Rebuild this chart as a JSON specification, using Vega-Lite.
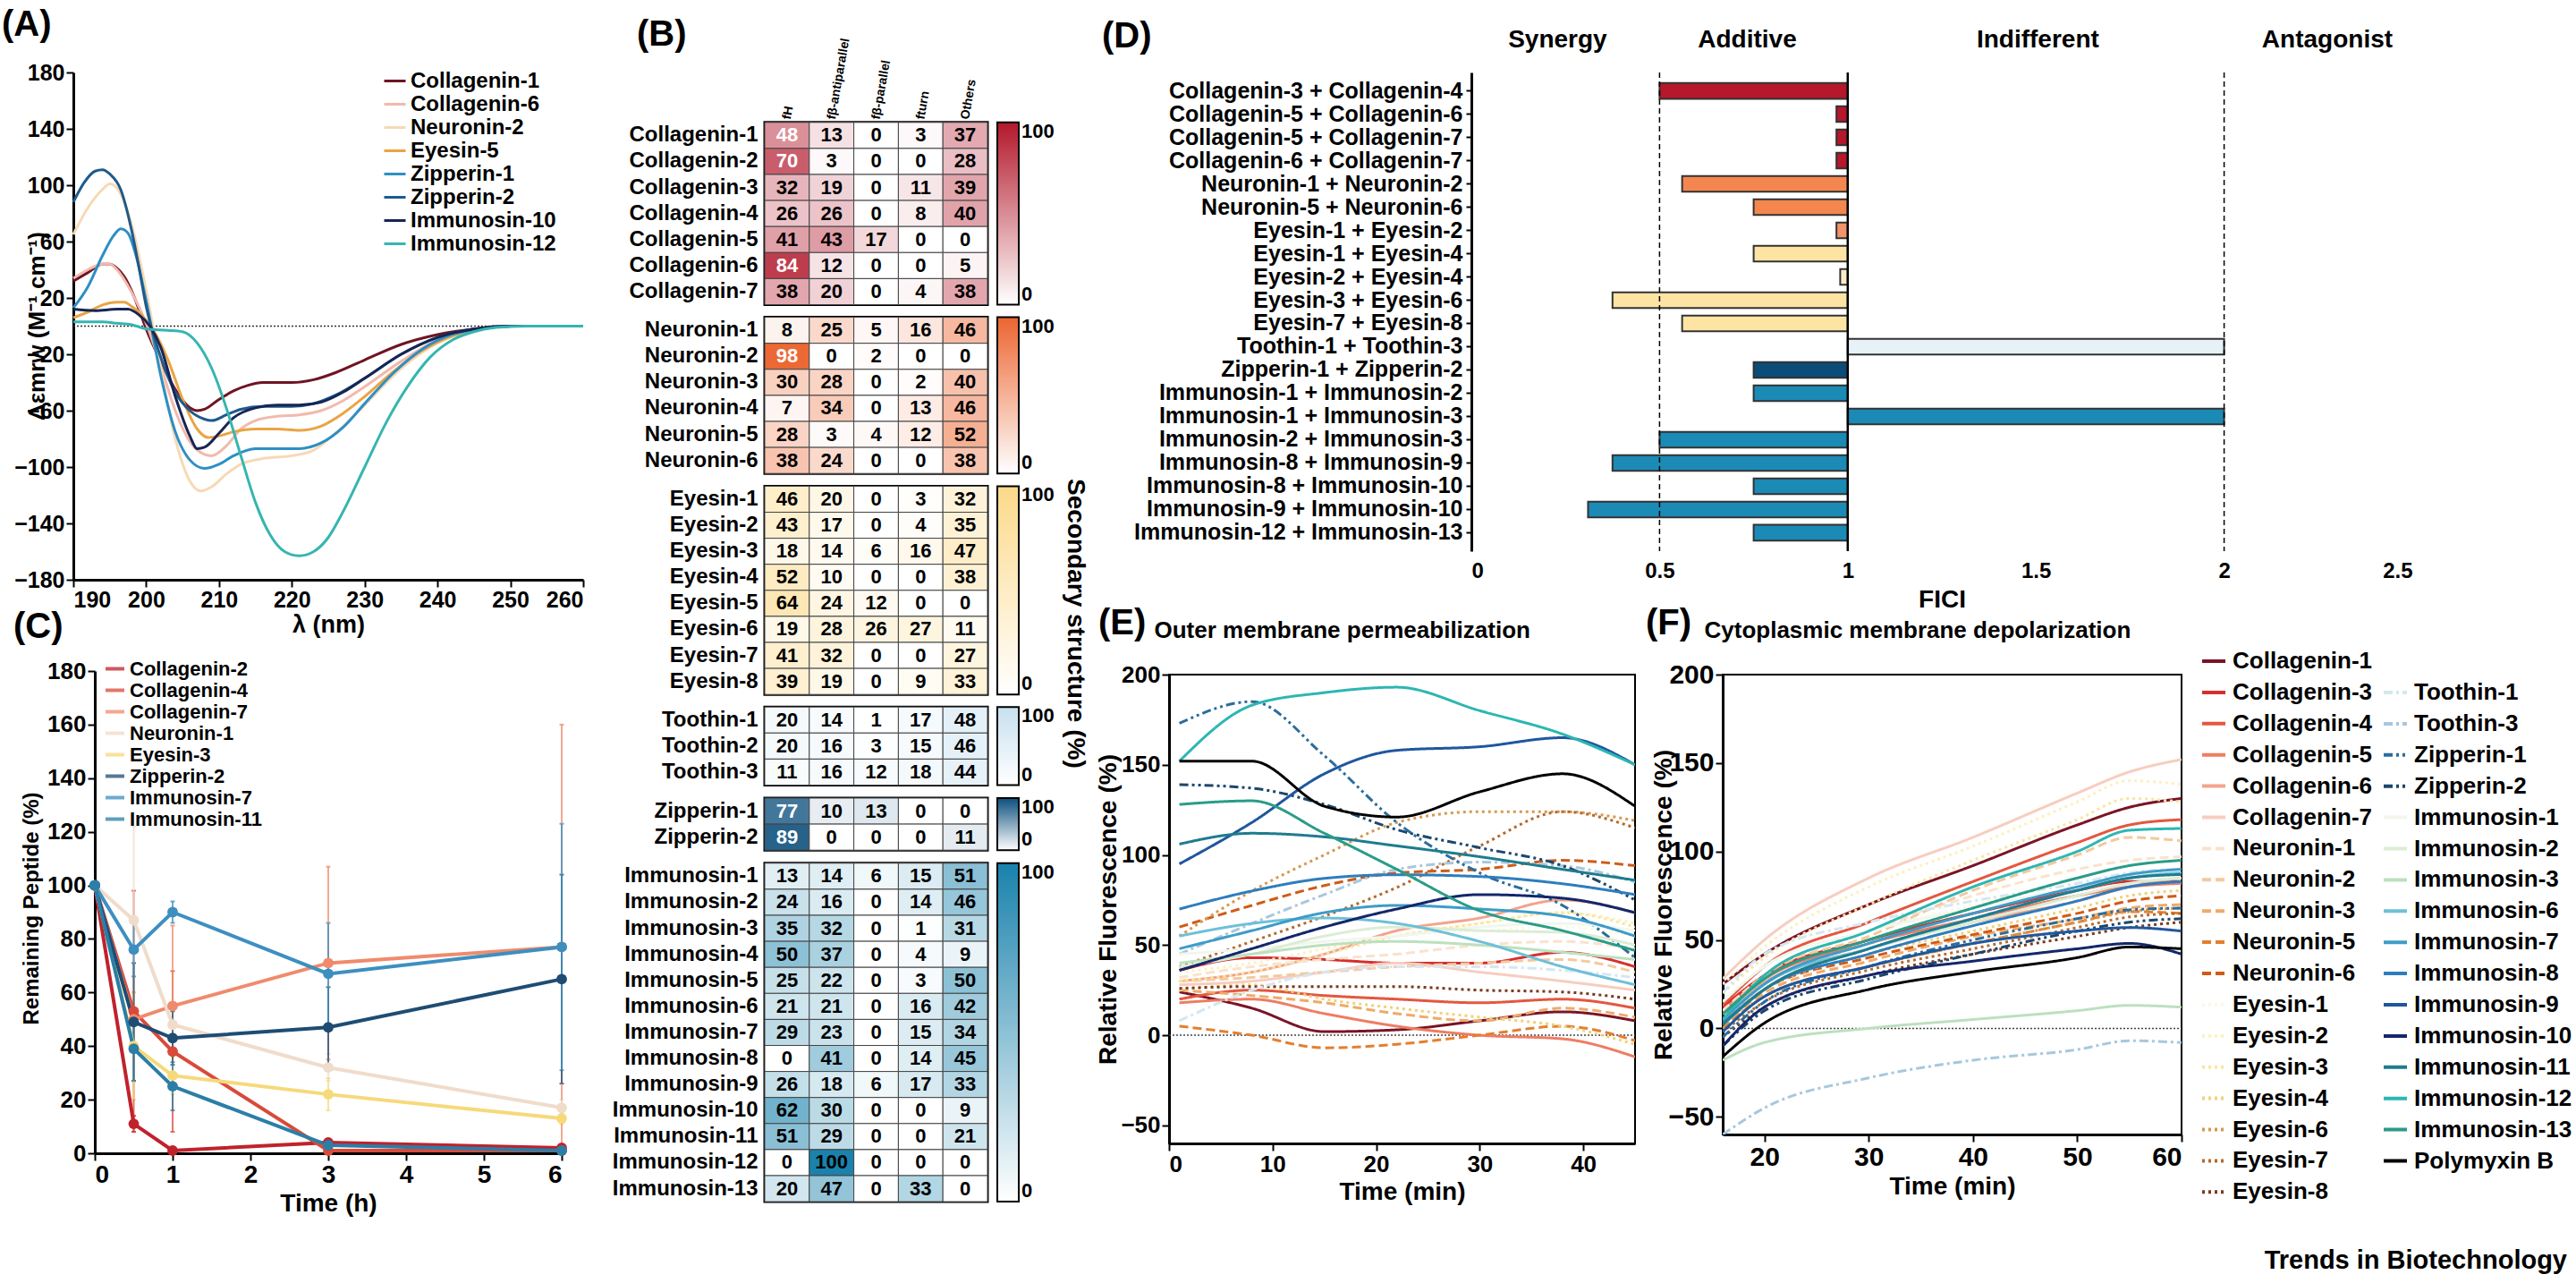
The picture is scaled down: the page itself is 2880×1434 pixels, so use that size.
{
"$schema": "https://vega.github.io/schema/vega-lite/v6.json",
"background": "white",
"autosize": {"type": "pad"},
"padding": {"left": 2, "top": 8, "right": 0, "bottom": 0},
"spacing": 0,
"bounds": "flush",
"resolve": {"scale": {"color": "independent", "strokeDash": "independent"}},
"hconcat": [
{
 "vconcat": [
  {
   "title": {"text": "(A)", "dx": -80, "offset": 21},
   "width": 570, "height": 567,
   "layer": [
    {"data": {"values": [{}]}, "mark": {"type": "rule", "strokeDash": [2, 2], "strokeWidth": 1.5, "color": "#333"}, "encoding": {"y": {"datum": 0}}},
    {"data": {"name": "A"},
     "mark": {"type": "line", "strokeWidth": 3, "interpolate": "monotone"},
     "encoding": {
      "x": {"field": "x", "type": "quantitative", "scale": {"domain": [190, 260], "nice": false, "zero": false}, "axis": {"values": [190,200,210,220,230,240,250,260], "title": "λ (nm)", "labelFontSize": 25, "titleFontSize": 27, "labelPadding": 2, "titlePadding": 2}},
      "y": {"field": "y", "type": "quantitative", "scale": {"domain": [-180, 180], "nice": false}, "axis": {"values": [-180,-160,-140,-120,-100,-80,-60,-40,-20,0,20,40,60,80,100,120,140,160,180], "title": "Δεmrw (M⁻¹ cm⁻¹)", "labelFontSize": 25, "titleFontSize": 26, "labelPadding": 2, "titleX": -41, "titleY": 283, "titleAngle": -90, "titleAlign": "center", "titleBaseline": "middle"}},
      "color": {"field": "s", "type": "nominal", "scale": {"domain": ["Collagenin-1","Collagenin-6","Neuronin-2","Eyesin-5","Zipperin-1","Zipperin-2","Immunosin-10","Immunosin-12"], "range": ["#6e1423","#f2b9ae","#f7d9b5","#eaa444","#2d8fc4","#1f5a8a","#172554","#36b5b0"]},
       "legend": {"orient": "none", "legendX": 346, "legendY": -4, "title": null, "symbolType": "stroke", "symbolSize": 576, "symbolStrokeWidth": 3, "labelFontSize": 24, "labelOffset": 4, "rowPadding": 0, "labelLimit": 400}}
     }}
   ]
  },
  {
   "title": {"text": "(C)", "dx": -91, "offset": 14},
   "width": 522, "height": 539,
   "data": {"name": "C"},
   "layer": [
    {"mark": {"type": "errorbar", "ticks": true, "thickness": 2},
     "encoding": {
      "x": {"field": "t", "type": "quantitative", "scale": {"domain": [0, 6], "nice": false}, "axis": {"values": [0,1,2,3,4,5,6], "title": "Time (h)", "labelFontSize": 28, "titleFontSize": 28, "labelPadding": 2}},
      "y": {"field": "lo", "type": "quantitative", "scale": {"domain": [0, 180], "nice": false}, "axis": {"values": [0,20,40,60,80,100,120,140,160,180], "title": "Remaining Peptide (%)", "labelFontSize": 26, "titleFontSize": 24, "labelPadding": 2, "titleX": -71, "titleY": 265, "titleAngle": -90, "titleAlign": "center", "titleBaseline": "middle"}},
      "y2": {"field": "hi"},
      "color": {"field": "s", "type": "nominal", "scale": {"domain": ["Collagenin-2","Collagenin-4","Collagenin-7","Neuronin-1","Eyesin-3","Zipperin-2","Immunosin-7","Immunosin-11"], "range": ["#c0222c","#d94a3a","#ef8b6c","#f0dccb","#f6d97a","#1e4c74","#3d8fc0","#2b7ea6"]},
       "legend": {"orient": "none", "legendX": 10, "legendY": -15, "title": null, "symbolType": "stroke", "symbolSize": 441, "symbolStrokeWidth": 4, "labelFontSize": 22, "labelOffset": 4, "rowPadding": 0, "labelLimit": 400}},
      "opacity": {"value": 0.75}
     }},
    {"mark": {"type": "line", "strokeWidth": 4, "point": {"filled": true, "size": 140}},
     "encoding": {
      "x": {"field": "t", "type": "quantitative", "scale": {"domain": [0, 6], "nice": false}, "axis": {"values": [0,1,2,3,4,5,6], "title": "Time (h)", "labelFontSize": 28, "titleFontSize": 28, "labelPadding": 2}},
      "y": {"field": "m", "type": "quantitative", "scale": {"domain": [0, 180], "nice": false}, "axis": {"values": [0,20,40,60,80,100,120,140,160,180], "title": "Remaining Peptide (%)", "labelFontSize": 26, "titleFontSize": 24, "labelPadding": 2, "titleX": -71, "titleY": 265, "titleAngle": -90, "titleAlign": "center", "titleBaseline": "middle"}},
      "color": {"field": "s", "type": "nominal", "scale": {"domain": ["Collagenin-2","Collagenin-4","Collagenin-7","Neuronin-1","Eyesin-3","Zipperin-2","Immunosin-7","Immunosin-11"], "range": ["#c0222c","#d94a3a","#ef8b6c","#f0dccb","#f6d97a","#1e4c74","#3d8fc0","#2b7ea6"]},
       "legend": {"orient": "none", "legendX": 10, "legendY": -15, "title": null, "symbolType": "stroke", "symbolSize": 441, "symbolStrokeWidth": 4, "labelFontSize": 22, "labelOffset": 4, "rowPadding": 0, "labelLimit": 400}}
     }}
   ]
  }
 ],
 "spacing": 102, "bounds": "flush", "center": true,
 "resolve": {"scale": {"color": "independent", "strokeDash": "independent"}}
},
{"width": 773, "height": 1, "data": {"values": []}, "mark": "point"},
{
 "vconcat": [
  {"title": {"text": "(B)", "dx": -143, "offset": 22}, "width": 249, "height": 42, "data": {"values": []}, "mark": "point"},
  {"width": 249, "height": 203.7, "data": {"name": "Bc"}, "view": {"stroke": "#000", "strokeWidth": 3},
   "encoding": {
    "x": {"field": "s", "type": "nominal", "sort": ["fH","fβ-antiparallel","fβ-parallel","fturn","Others"], "scale": {"paddingInner": 0, "paddingOuter": 0}, "axis": {"orient": "top", "title": null, "domain": false, "ticks": false, "labelAngle": -80, "labelAlign": "left", "labelBaseline": "middle", "labelFontSize": 14, "labelPadding": 4}},
    "y": {"field": "p", "type": "nominal", "sort": null, "scale": {"paddingInner": 0, "paddingOuter": 0}, "axis": {"title": null, "domain": false, "ticks": false, "labelFontSize": 24, "labelPadding": 8, "labelLimit": 400}}
   },
   "layer": [
    {"mark": {"type": "rect", "stroke": "#444", "strokeWidth": 1}, "encoding": {"color": {"field": "v", "type": "quantitative", "scale": {"domain": [0, 100], "range": ["#ffffff", "#b2182b"], "interpolate": "rgb"}, "legend": {"orient": "none", "legendX": 260, "legendY": 0, "direction": "vertical", "title": null, "gradientLength": 203.7, "gradientThickness": 24, "values": [0, 100], "labelFontSize": 22, "labelOffset": 3, "gradientStrokeColor": "#000", "gradientStrokeWidth": 2, "labelOverlap": false}}}},
    {"mark": {"type": "text", "fontSize": 22, "fontWeight": "bold"}, "encoding": {"text": {"field": "v", "type": "quantitative"}, "color": {"condition": {"test": "datum.v >= 45", "value": "#ffffff"}, "value": "#000000"}}}
   ]},
  {"width": 249, "height": 174.6, "data": {"name": "Bn"}, "view": {"stroke": "#000", "strokeWidth": 3},
   "encoding": {
    "x": {"field": "s", "type": "nominal", "sort": ["fH","fβ-antiparallel","fβ-parallel","fturn","Others"], "scale": {"paddingInner": 0, "paddingOuter": 0}, "axis": null},
    "y": {"field": "p", "type": "nominal", "sort": null, "scale": {"paddingInner": 0, "paddingOuter": 0}, "axis": {"title": null, "domain": false, "ticks": false, "labelFontSize": 24, "labelPadding": 8, "labelLimit": 400}}
   },
   "layer": [
    {"mark": {"type": "rect", "stroke": "#444", "strokeWidth": 1}, "encoding": {"color": {"field": "v", "type": "quantitative", "scale": {"domain": [0, 100], "range": ["#ffffff", "#ec6530"], "interpolate": "rgb"}, "legend": {"orient": "none", "legendX": 260, "legendY": 0, "direction": "vertical", "title": null, "gradientLength": 174.6, "gradientThickness": 24, "values": [0, 100], "labelFontSize": 22, "labelOffset": 3, "gradientStrokeColor": "#000", "gradientStrokeWidth": 2, "labelOverlap": false}}}},
    {"mark": {"type": "text", "fontSize": 22, "fontWeight": "bold"}, "encoding": {"text": {"field": "v", "type": "quantitative"}, "color": {"condition": {"test": "datum.v >= 60", "value": "#ffffff"}, "value": "#000000"}}}
   ]},
  {"width": 249, "height": 232.8, "data": {"name": "Be"}, "view": {"stroke": "#000", "strokeWidth": 3},
   "encoding": {
    "x": {"field": "s", "type": "nominal", "sort": ["fH","fβ-antiparallel","fβ-parallel","fturn","Others"], "scale": {"paddingInner": 0, "paddingOuter": 0}, "axis": null}
   },
   "layer": [
    {"mark": {"type": "rect", "stroke": "#444", "strokeWidth": 1}, "encoding": {
      "y": {"field": "p", "type": "nominal", "sort": null, "scale": {"paddingInner": 0, "paddingOuter": 0}, "axis": {"title": null, "domain": false, "ticks": false, "labelFontSize": 24, "labelPadding": 8, "labelLimit": 400}},
      "color": {"field": "v", "type": "quantitative", "scale": {"domain": [0, 100], "range": ["#ffffff", "#fcd98a"], "interpolate": "rgb"}, "legend": {"orient": "none", "legendX": 260, "legendY": 0, "direction": "vertical", "title": null, "gradientLength": 232.8, "gradientThickness": 24, "values": [0, 100], "labelFontSize": 22, "labelOffset": 3, "gradientStrokeColor": "#000", "gradientStrokeWidth": 2, "labelOverlap": false}}}},
    {"mark": {"type": "text", "fontSize": 22, "fontWeight": "bold"}, "encoding": {
      "y": {"field": "p", "type": "nominal", "sort": null, "axis": {"orient": "right", "title": "Secondary structure (%)", "labels": false, "ticks": false, "domain": false, "titleFontSize": 28, "titleAngle": 90, "titleX": 97, "titleY": 153, "titleAlign": "center", "titleBaseline": "middle"}},
      "text": {"field": "v", "type": "quantitative"}, "color": {"value": "#000000"}}}
   ],
   "resolve": {"axis": {"y": "independent"}}},
  {"width": 249, "height": 87.3, "data": {"name": "Bt"}, "view": {"stroke": "#000", "strokeWidth": 3},
   "encoding": {
    "x": {"field": "s", "type": "nominal", "sort": ["fH","fβ-antiparallel","fβ-parallel","fturn","Others"], "scale": {"paddingInner": 0, "paddingOuter": 0}, "axis": null},
    "y": {"field": "p", "type": "nominal", "sort": null, "scale": {"paddingInner": 0, "paddingOuter": 0}, "axis": {"title": null, "domain": false, "ticks": false, "labelFontSize": 24, "labelPadding": 8, "labelLimit": 400}}
   },
   "layer": [
    {"mark": {"type": "rect", "stroke": "#444", "strokeWidth": 1}, "encoding": {"color": {"field": "v", "type": "quantitative", "scale": {"domain": [0, 100], "range": ["#ffffff", "#c6e0ef"], "interpolate": "rgb"}, "legend": {"orient": "none", "legendX": 260, "legendY": 0, "direction": "vertical", "title": null, "gradientLength": 87.3, "gradientThickness": 24, "values": [0, 100], "labelFontSize": 22, "labelOffset": 3, "gradientStrokeColor": "#000", "gradientStrokeWidth": 2, "labelOverlap": false}}}},
    {"mark": {"type": "text", "fontSize": 22, "fontWeight": "bold"}, "encoding": {"text": {"field": "v", "type": "quantitative"}, "color": {"value": "#000000"}}}
   ]},
  {"width": 249, "height": 58.2, "data": {"name": "Bz"}, "view": {"stroke": "#000", "strokeWidth": 3},
   "encoding": {
    "x": {"field": "s", "type": "nominal", "sort": ["fH","fβ-antiparallel","fβ-parallel","fturn","Others"], "scale": {"paddingInner": 0, "paddingOuter": 0}, "axis": null},
    "y": {"field": "p", "type": "nominal", "sort": null, "scale": {"paddingInner": 0, "paddingOuter": 0}, "axis": {"title": null, "domain": false, "ticks": false, "labelFontSize": 24, "labelPadding": 8, "labelLimit": 400}}
   },
   "layer": [
    {"mark": {"type": "rect", "stroke": "#444", "strokeWidth": 1}, "encoding": {"color": {"field": "v", "type": "quantitative", "scale": {"domain": [0, 100], "range": ["#ffffff", "#0b4f7c"], "interpolate": "rgb"}, "legend": {"orient": "none", "legendX": 260, "legendY": 0, "direction": "vertical", "title": null, "gradientLength": 58.2, "gradientThickness": 24, "values": [0, 100], "labelFontSize": 22, "labelOffset": 3, "gradientStrokeColor": "#000", "gradientStrokeWidth": 2, "labelOverlap": false}}}},
    {"mark": {"type": "text", "fontSize": 22, "fontWeight": "bold"}, "encoding": {"text": {"field": "v", "type": "quantitative"}, "color": {"condition": {"test": "datum.v >= 60", "value": "#ffffff"}, "value": "#000000"}}}
   ]},
  {"width": 249, "height": 378.3, "data": {"name": "Bi"}, "view": {"stroke": "#000", "strokeWidth": 3},
   "encoding": {
    "x": {"field": "s", "type": "nominal", "sort": ["fH","fβ-antiparallel","fβ-parallel","fturn","Others"], "scale": {"paddingInner": 0, "paddingOuter": 0}, "axis": null},
    "y": {"field": "p", "type": "nominal", "sort": null, "scale": {"paddingInner": 0, "paddingOuter": 0}, "axis": {"title": null, "domain": false, "ticks": false, "labelFontSize": 24, "labelPadding": 8, "labelLimit": 400}}
   },
   "layer": [
    {"mark": {"type": "rect", "stroke": "#444", "strokeWidth": 1}, "encoding": {"color": {"field": "v", "type": "quantitative", "scale": {"domain": [0, 100], "range": ["#ffffff", "#1a82ac"], "interpolate": "rgb"}, "legend": {"orient": "none", "legendX": 260, "legendY": 0, "direction": "vertical", "title": null, "gradientLength": 378.3, "gradientThickness": 24, "values": [0, 100], "labelFontSize": 22, "labelOffset": 3, "gradientStrokeColor": "#000", "gradientStrokeWidth": 2, "labelOverlap": false}}}},
    {"mark": {"type": "text", "fontSize": 22, "fontWeight": "bold"}, "encoding": {"text": {"field": "v", "type": "quantitative"}, "color": {"value": "#000000"}}}
   ]}
 ],
 "spacing": 13.8, "bounds": "flush",
 "resolve": {"scale": {"color": "independent", "strokeDash": "independent"}}
},
{"width": 452, "height": 1, "data": {"values": []}, "mark": "point"},
{
 "vconcat": [
  {
   "hconcat": [
    {"title": {"text": "(D)", "dx": -75, "offset": 20}, "width": 338, "height": 535, "data": {"values": []}, "mark": "point"},
    {
     "width": 1052, "height": 535,
     "layer": [
      {"data": {"name": "D"},
       "mark": {"type": "bar", "stroke": "#333", "strokeWidth": 2},
       "encoding": {
        "y": {"field": "p", "type": "nominal", "sort": null, "scale": {"paddingInner": 0.32, "paddingOuter": 0.45}, "axis": {"title": null, "labelFontSize": 25, "tickSize": 6, "labelPadding": 4, "labelLimit": 500}},
        "x": {"field": "v", "type": "quantitative", "scale": {"domain": [0, 2.5], "nice": false}, "axis": {"values": [0, 0.5, 1, 1.5, 2, 2.5], "format": "~g", "domain": false, "ticks": false, "labelFontSize": 24, "title": "FICI", "titleFontSize": 28, "labelPadding": 10, "titlePadding": 6}},
        "x2": {"datum": 1},
        "color": {"field": "p", "type": "nominal", "scale": {"domain": ["Collagenin-3 + Collagenin-4","Collagenin-5 + Collagenin-6","Collagenin-5 + Collagenin-7","Collagenin-6 + Collagenin-7","Neuronin-1 + Neuronin-2","Neuronin-5 + Neuronin-6","Eyesin-1 + Eyesin-2","Eyesin-1 + Eyesin-4","Eyesin-2 + Eyesin-4","Eyesin-3 + Eyesin-6","Eyesin-7 + Eyesin-8","Toothin-1 + Toothin-3","Zipperin-1 + Zipperin-2","Immunosin-1 + Immunosin-2","Immunosin-1 + Immunosin-3","Immunosin-2 + Immunosin-3","Immunosin-8 + Immunosin-9","Immunosin-8 + Immunosin-10","Immunosin-9 + Immunosin-10","Immunosin-12 + Immunosin-13"], "range": ["#b5172b","#b5172b","#b5172b","#b5172b","#f4874f","#f4874f","#f3936a","#fde4a3","#fdecc6","#fde4a3","#fde4a3","#e6f2f8","#0b4c78","#1b8ab5","#1b8ab5","#1b8ab5","#1b8ab5","#1b8ab5","#1b8ab5","#1b8ab5"]}, "legend": null}
       }},
      {"data": {"values": [{"f": 0.5}, {"f": 2}]},
       "mark": {"type": "rule", "strokeDash": [6, 4], "strokeWidth": 1.5, "color": "#000"},
       "encoding": {"x": {"field": "f", "type": "quantitative", "axis": {"orient": "top", "values": [0.228, 0.732, 1.504, 2.273], "labelExpr": "datum.value < 0.5 ? 'Synergy' : datum.value < 1 ? 'Additive' : datum.value < 2 ? 'Indifferent' : 'Antagonist'", "domain": false, "ticks": false, "title": null, "labelFontSize": 28, "labelPadding": 23, "labelFlush": false}}}},
      {"data": {"values": [{"f": 1}]},
       "mark": {"type": "rule", "strokeWidth": 2.5, "color": "#000"},
       "encoding": {"x": {"field": "f", "type": "quantitative", "axis": null}}}
     ],
     "resolve": {"axis": {"x": "independent"}}
    }
   ],
   "spacing": 0, "bounds": "flush",
   "resolve": {"scale": {"color": "independent", "strokeDash": "independent"}}
  },
  {"width": 1, "height": 673, "data": {"values": []}, "mark": "point"},
  {
   "hconcat": [
    {
     "title": {"text": "(E)", "dx": -79, "dy": 30},
     "width": 521, "height": 524,
     "view": {"stroke": "#000", "strokeWidth": 2},
     "layer": [
      {"data": {"values": [{}]},
       "mark": {"type": "rule", "strokeDash": [2, 2], "strokeWidth": 1.5, "color": "#444"},
       "encoding": {
        "x": {"datum": 0, "type": "quantitative", "axis": {"orient": "top", "title": "Outer membrane permeabilization", "labels": false, "ticks": false, "domain": false, "titleFontSize": 26, "titleX": -17, "titleY": -50, "titleAlign": "left", "titleBaseline": "middle"}},
        "x2": {"datum": 45},
        "y": {"datum": 0, "type": "quantitative"}
       }},
      {"data": {"name": "E"},
       "mark": {"type": "line", "strokeWidth": 3, "interpolate": "monotone", "clip": true},
       "encoding": {
        "x": {"field": "t", "type": "quantitative", "scale": {"domain": [0, 45], "nice": false}, "axis": {"values": [0, 10, 20, 30, 40], "title": "Time (min)", "labelFontSize": 26, "titleFontSize": 28, "labelPadding": 2}},
        "y": {"field": "v", "type": "quantitative", "scale": {"domain": [-60, 200], "nice": false}, "axis": {"values": [-50, 0, 50, 100, 150, 200], "title": "Relative Fluorescence (%)", "labelFontSize": 26, "titleFontSize": 28, "labelPadding": 2, "titleX": -68, "titleY": 262, "titleAngle": -90, "titleAlign": "center", "titleBaseline": "middle"}},
        "color": {"field": "s", "type": "nominal", "scale": {"domain": ["Collagenin-1","Collagenin-3","Collagenin-4","Collagenin-5","Collagenin-6","Collagenin-7","Neuronin-1","Neuronin-2","Neuronin-3","Neuronin-5","Neuronin-6","Eyesin-1","Eyesin-2","Eyesin-3","Eyesin-4","Eyesin-6","Eyesin-7","Eyesin-8","Toothin-1","Toothin-3","Zipperin-1","Zipperin-2","Immunosin-1","Immunosin-2","Immunosin-3","Immunosin-6","Immunosin-7","Immunosin-8","Immunosin-9","Immunosin-10","Immunosin-11","Immunosin-12","Immunosin-13","Polymyxin B"], "range": ["#7a1426","#d62f2f","#e4573f","#ee7d62","#f3a48c","#f7cdbf","#f9e3cc","#f4c99e","#efaa6a","#e47f2e","#cf5b16","#fdf8e4","#fbf1c0","#f8e6a0","#efd27a","#d59a50","#b46a30","#7a3a1d","#d5e7f1","#a7c8de","#2b6d9c","#1b476d","#f1f6ee","#dcedd5","#bde0bf","#6ec0d8","#3e9cc8","#2e7dbd","#1f579e","#14276a","#1e7c8e","#2db6b3","#2a9c88","#000000"]}, "legend": null},
        "strokeDash": {"field": "s", "type": "nominal", "scale": {"domain": ["Collagenin-1","Collagenin-3","Collagenin-4","Collagenin-5","Collagenin-6","Collagenin-7","Neuronin-1","Neuronin-2","Neuronin-3","Neuronin-5","Neuronin-6","Eyesin-1","Eyesin-2","Eyesin-3","Eyesin-4","Eyesin-6","Eyesin-7","Eyesin-8","Toothin-1","Toothin-3","Zipperin-1","Zipperin-2","Immunosin-1","Immunosin-2","Immunosin-3","Immunosin-6","Immunosin-7","Immunosin-8","Immunosin-9","Immunosin-10","Immunosin-11","Immunosin-12","Immunosin-13","Polymyxin B"], "range": [[1,0],[1,0],[1,0],[1,0],[1,0],[1,0],[10,5],[10,5],[10,5],[10,5],[10,5],[3,4],[3,4],[3,4],[3,4],[3,4],[3,4],[3,4],[10,4,3,4],[10,4,3,4],[10,4,3,4,3,4],[10,4,3,4,3,4],[1,0],[1,0],[1,0],[1,0],[1,0],[1,0],[1,0],[1,0],[1,0],[1,0],[1,0],[1,0]]}, "legend": null}
       }}
     ],
     "resolve": {"axis": {"x": "independent"}}
    },
    {
     "title": {"text": "(F)", "dx": -86, "dy": 30},
     "width": 513, "height": 514,
     "view": {"stroke": "#000", "strokeWidth": 2},
     "layer": [
      {"data": {"values": [{}]},
       "mark": {"type": "rule", "strokeDash": [2, 2], "strokeWidth": 1.5, "color": "#444"},
       "encoding": {
        "x": {"datum": 16, "type": "quantitative", "axis": {"orient": "top", "title": "Cytoplasmic membrane depolarization", "labels": false, "ticks": false, "domain": false, "titleFontSize": 26, "titleX": -21, "titleY": -50, "titleAlign": "left", "titleBaseline": "middle"}},
        "x2": {"datum": 60},
        "y": {"datum": 0, "type": "quantitative"}
       }},
      {"data": {"name": "F1"},
       "mark": {"type": "line", "strokeWidth": 3, "interpolate": "monotone", "clip": true},
       "encoding": {
        "x": {"field": "t", "type": "quantitative", "scale": {"domain": [16, 60], "nice": false, "zero": false}, "axis": {"values": [20, 30, 40, 50, 60], "title": "Time (min)", "labelFontSize": 30, "titleFontSize": 28, "labelPadding": 2}},
        "y": {"field": "v", "type": "quantitative", "scale": {"domain": [-60, 200], "nice": false}, "axis": {"values": [-50, 0, 50, 100, 150, 200], "title": "Relative Fluorescence (%)", "labelFontSize": 30, "titleFontSize": 28, "labelPadding": 2, "titleX": -66, "titleY": 257, "titleAngle": -90, "titleAlign": "center", "titleBaseline": "middle"}},
        "color": {"field": "s", "type": "nominal", "scale": {"domain": ["Collagenin-1","Collagenin-3","Collagenin-4","Collagenin-5","Collagenin-6","Collagenin-7","Neuronin-1","Neuronin-2","Neuronin-3","Neuronin-5","Neuronin-6","Eyesin-1","Eyesin-2","Eyesin-3","Eyesin-4","Eyesin-6","Eyesin-7","Eyesin-8"], "range": ["#7a1426","#d62f2f","#e4573f","#ee7d62","#f3a48c","#f7cdbf","#f9e3cc","#f4c99e","#efaa6a","#e47f2e","#cf5b16","#fdf8e4","#fbf1c0","#f8e6a0","#efd27a","#d59a50","#b46a30","#7a3a1d"]},
         "legend": {"orient": "none", "legendX": 534, "legendY": -30, "title": null, "symbolType": "stroke", "symbolSize": 676, "symbolStrokeWidth": 4, "labelFontSize": 26, "labelOffset": 6, "rowPadding": 6.9, "labelLimit": 400}},
        "strokeDash": {"field": "s", "type": "nominal", "scale": {"domain": ["Collagenin-1","Collagenin-3","Collagenin-4","Collagenin-5","Collagenin-6","Collagenin-7","Neuronin-1","Neuronin-2","Neuronin-3","Neuronin-5","Neuronin-6","Eyesin-1","Eyesin-2","Eyesin-3","Eyesin-4","Eyesin-6","Eyesin-7","Eyesin-8"], "range": [[1,0],[1,0],[1,0],[1,0],[1,0],[1,0],[10,5],[10,5],[10,5],[10,5],[10,5],[3,4],[3,4],[3,4],[3,4],[3,4],[3,4],[3,4]]},
         "legend": {"orient": "none", "legendX": 534, "legendY": -30, "title": null, "symbolType": "stroke", "symbolSize": 676, "symbolStrokeWidth": 4, "labelFontSize": 26, "labelOffset": 6, "rowPadding": 6.9, "labelLimit": 400}}
       }},
      {"data": {"name": "F2"},
       "mark": {"type": "line", "strokeWidth": 3, "interpolate": "monotone", "clip": true},
       "encoding": {
        "x": {"field": "t", "type": "quantitative", "axis": null},
        "y": {"field": "v", "type": "quantitative"},
        "color": {"field": "s", "type": "nominal", "scale": {"domain": ["Toothin-1","Toothin-3","Zipperin-1","Zipperin-2","Immunosin-1","Immunosin-2","Immunosin-3","Immunosin-6","Immunosin-7","Immunosin-8","Immunosin-9","Immunosin-10","Immunosin-11","Immunosin-12","Immunosin-13","Polymyxin B"], "range": ["#d5e7f1","#a7c8de","#2b6d9c","#1b476d","#f1f6ee","#dcedd5","#bde0bf","#6ec0d8","#3e9cc8","#2e7dbd","#1f579e","#14276a","#1e7c8e","#2db6b3","#2a9c88","#000000"]},
         "legend": {"orient": "none", "legendX": 737, "legendY": 5, "title": null, "symbolType": "stroke", "symbolSize": 676, "symbolStrokeWidth": 4, "labelFontSize": 26, "labelOffset": 6, "rowPadding": 6.9, "labelLimit": 400}},
        "strokeDash": {"field": "s", "type": "nominal", "scale": {"domain": ["Toothin-1","Toothin-3","Zipperin-1","Zipperin-2","Immunosin-1","Immunosin-2","Immunosin-3","Immunosin-6","Immunosin-7","Immunosin-8","Immunosin-9","Immunosin-10","Immunosin-11","Immunosin-12","Immunosin-13","Polymyxin B"], "range": [[10,4,3,4],[10,4,3,4],[10,4,3,4,3,4],[10,4,3,4,3,4],[1,0],[1,0],[1,0],[1,0],[1,0],[1,0],[1,0],[1,0],[1,0],[1,0],[1,0],[1,0]]},
         "legend": {"orient": "none", "legendX": 737, "legendY": 5, "title": null, "symbolType": "stroke", "symbolSize": 676, "symbolStrokeWidth": 4, "labelFontSize": 26, "labelOffset": 6, "rowPadding": 6.9, "labelLimit": 400}}
       }}
     ],
     "resolve": {"axis": {"x": "independent"}, "scale": {"color": "independent", "strokeDash": "independent"}}
    }
   ],
   "spacing": 98, "bounds": "flush",
   "resolve": {"scale": {"color": "independent", "strokeDash": "independent"}}
  },
  {"title": {"text": "Trends in Biotechnology", "orient": "bottom", "anchor": "end", "fontSize": 29, "offset": 640}, "width": 1563, "height": 1, "data": {"values": []}, "mark": "point"}
 ],
 "spacing": 0, "bounds": "flush",
 "resolve": {"scale": {"color": "independent", "strokeDash": "independent"}}
}
],
"datasets": {
"A": [
{"s":"Collagenin-1","x":190,"y":32},{"s":"Collagenin-1","x":192,"y":38},{"s":"Collagenin-1","x":194,"y":44},{"s":"Collagenin-1","x":195,"y":44},{"s":"Collagenin-1","x":196,"y":41},{"s":"Collagenin-1","x":197,"y":35},{"s":"Collagenin-1","x":198,"y":25},{"s":"Collagenin-1","x":199,"y":12},{"s":"Collagenin-1","x":200,"y":-2},{"s":"Collagenin-1","x":202,"y":-25},{"s":"Collagenin-1","x":204,"y":-45},{"s":"Collagenin-1","x":206,"y":-58},{"s":"Collagenin-1","x":207,"y":-60},{"s":"Collagenin-1","x":208,"y":-59},{"s":"Collagenin-1","x":210,"y":-52},{"s":"Collagenin-1","x":212,"y":-46},{"s":"Collagenin-1","x":214,"y":-42},{"s":"Collagenin-1","x":216,"y":-40},{"s":"Collagenin-1","x":220,"y":-40},{"s":"Collagenin-1","x":223,"y":-38},{"s":"Collagenin-1","x":226,"y":-33},{"s":"Collagenin-1","x":230,"y":-24},{"s":"Collagenin-1","x":235,"y":-13},{"s":"Collagenin-1","x":240,"y":-6},{"s":"Collagenin-1","x":245,"y":-2},{"s":"Collagenin-1","x":250,"y":0},{"s":"Collagenin-1","x":260,"y":0},
{"s":"Collagenin-6","x":190,"y":34},{"s":"Collagenin-6","x":192,"y":40},{"s":"Collagenin-6","x":194,"y":44},{"s":"Collagenin-6","x":195,"y":44},{"s":"Collagenin-6","x":196,"y":40},{"s":"Collagenin-6","x":198,"y":24},{"s":"Collagenin-6","x":200,"y":2},{"s":"Collagenin-6","x":202,"y":-28},{"s":"Collagenin-6","x":204,"y":-60},{"s":"Collagenin-6","x":206,"y":-82},{"s":"Collagenin-6","x":208,"y":-91},{"s":"Collagenin-6","x":209,"y":-92},{"s":"Collagenin-6","x":211,"y":-85},{"s":"Collagenin-6","x":213,"y":-73},{"s":"Collagenin-6","x":215,"y":-67},{"s":"Collagenin-6","x":218,"y":-64},{"s":"Collagenin-6","x":221,"y":-63},{"s":"Collagenin-6","x":224,"y":-60},{"s":"Collagenin-6","x":227,"y":-53},{"s":"Collagenin-6","x":230,"y":-43},{"s":"Collagenin-6","x":235,"y":-25},{"s":"Collagenin-6","x":240,"y":-10},{"s":"Collagenin-6","x":245,"y":-3},{"s":"Collagenin-6","x":250,"y":0},{"s":"Collagenin-6","x":260,"y":0},
{"s":"Neuronin-2","x":190,"y":65},{"s":"Neuronin-2","x":192,"y":84},{"s":"Neuronin-2","x":194,"y":97},{"s":"Neuronin-2","x":195,"y":101},{"s":"Neuronin-2","x":196,"y":98},{"s":"Neuronin-2","x":197,"y":88},{"s":"Neuronin-2","x":198,"y":72},{"s":"Neuronin-2","x":200,"y":25},{"s":"Neuronin-2","x":202,"y":-30},{"s":"Neuronin-2","x":204,"y":-80},{"s":"Neuronin-2","x":206,"y":-110},{"s":"Neuronin-2","x":207.5,"y":-117},{"s":"Neuronin-2","x":209,"y":-114},{"s":"Neuronin-2","x":211,"y":-105},{"s":"Neuronin-2","x":213,"y":-98},{"s":"Neuronin-2","x":216,"y":-94},{"s":"Neuronin-2","x":220,"y":-92},{"s":"Neuronin-2","x":223,"y":-88},{"s":"Neuronin-2","x":226,"y":-76},{"s":"Neuronin-2","x":230,"y":-56},{"s":"Neuronin-2","x":235,"y":-30},{"s":"Neuronin-2","x":240,"y":-12},{"s":"Neuronin-2","x":245,"y":-3},{"s":"Neuronin-2","x":250,"y":0},{"s":"Neuronin-2","x":260,"y":0},
{"s":"Eyesin-5","x":190,"y":6},{"s":"Eyesin-5","x":192,"y":10},{"s":"Eyesin-5","x":194,"y":15},{"s":"Eyesin-5","x":196,"y":17},{"s":"Eyesin-5","x":197,"y":17},{"s":"Eyesin-5","x":198,"y":14},{"s":"Eyesin-5","x":199,"y":10},{"s":"Eyesin-5","x":200,"y":4},{"s":"Eyesin-5","x":201,"y":-3},{"s":"Eyesin-5","x":203,"y":-24},{"s":"Eyesin-5","x":205,"y":-52},{"s":"Eyesin-5","x":207,"y":-73},{"s":"Eyesin-5","x":208.5,"y":-79},{"s":"Eyesin-5","x":210,"y":-78},{"s":"Eyesin-5","x":212,"y":-75},{"s":"Eyesin-5","x":215,"y":-73},{"s":"Eyesin-5","x":218,"y":-73},{"s":"Eyesin-5","x":221,"y":-74},{"s":"Eyesin-5","x":224,"y":-71},{"s":"Eyesin-5","x":227,"y":-62},{"s":"Eyesin-5","x":230,"y":-50},{"s":"Eyesin-5","x":234,"y":-32},{"s":"Eyesin-5","x":238,"y":-17},{"s":"Eyesin-5","x":242,"y":-7},{"s":"Eyesin-5","x":246,"y":-2},{"s":"Eyesin-5","x":250,"y":0},{"s":"Eyesin-5","x":260,"y":0},
{"s":"Zipperin-1","x":190,"y":13},{"s":"Zipperin-1","x":192,"y":28},{"s":"Zipperin-1","x":194,"y":50},{"s":"Zipperin-1","x":195.5,"y":64},{"s":"Zipperin-1","x":196.5,"y":69},{"s":"Zipperin-1","x":197.5,"y":66},{"s":"Zipperin-1","x":198.5,"y":52},{"s":"Zipperin-1","x":200,"y":18},{"s":"Zipperin-1","x":202,"y":-35},{"s":"Zipperin-1","x":204,"y":-75},{"s":"Zipperin-1","x":206,"y":-95},{"s":"Zipperin-1","x":208,"y":-101},{"s":"Zipperin-1","x":210,"y":-98},{"s":"Zipperin-1","x":212,"y":-92},{"s":"Zipperin-1","x":215,"y":-87},{"s":"Zipperin-1","x":218,"y":-87},{"s":"Zipperin-1","x":221,"y":-87},{"s":"Zipperin-1","x":224,"y":-83},{"s":"Zipperin-1","x":227,"y":-72},{"s":"Zipperin-1","x":230,"y":-55},{"s":"Zipperin-1","x":234,"y":-33},{"s":"Zipperin-1","x":238,"y":-16},{"s":"Zipperin-1","x":242,"y":-6},{"s":"Zipperin-1","x":246,"y":-2},{"s":"Zipperin-1","x":250,"y":0},{"s":"Zipperin-1","x":260,"y":0},
{"s":"Zipperin-2","x":190,"y":88},{"s":"Zipperin-2","x":191.5,"y":102},{"s":"Zipperin-2","x":193,"y":110},{"s":"Zipperin-2","x":194,"y":111},{"s":"Zipperin-2","x":195,"y":108},{"s":"Zipperin-2","x":196.5,"y":97},{"s":"Zipperin-2","x":198,"y":68},{"s":"Zipperin-2","x":199,"y":42},{"s":"Zipperin-2","x":200,"y":14},{"s":"Zipperin-2","x":202,"y":-22},{"s":"Zipperin-2","x":204,"y":-47},{"s":"Zipperin-2","x":206,"y":-60},{"s":"Zipperin-2","x":208,"y":-66},{"s":"Zipperin-2","x":209,"y":-67},{"s":"Zipperin-2","x":211,"y":-63},{"s":"Zipperin-2","x":213,"y":-59},{"s":"Zipperin-2","x":216,"y":-57},{"s":"Zipperin-2","x":220,"y":-57},{"s":"Zipperin-2","x":223,"y":-55},{"s":"Zipperin-2","x":226,"y":-49},{"s":"Zipperin-2","x":230,"y":-37},{"s":"Zipperin-2","x":235,"y":-20},{"s":"Zipperin-2","x":240,"y":-8},{"s":"Zipperin-2","x":245,"y":-2},{"s":"Zipperin-2","x":250,"y":0},{"s":"Zipperin-2","x":260,"y":0},
{"s":"Immunosin-10","x":190,"y":12},{"s":"Immunosin-10","x":193,"y":11},{"s":"Immunosin-10","x":196,"y":12},{"s":"Immunosin-10","x":197.5,"y":12},{"s":"Immunosin-10","x":199,"y":8},{"s":"Immunosin-10","x":200.5,"y":0},{"s":"Immunosin-10","x":202,"y":-15},{"s":"Immunosin-10","x":204,"y":-50},{"s":"Immunosin-10","x":206,"y":-78},{"s":"Immunosin-10","x":207,"y":-87},{"s":"Immunosin-10","x":208,"y":-86},{"s":"Immunosin-10","x":210,"y":-76},{"s":"Immunosin-10","x":212,"y":-65},{"s":"Immunosin-10","x":215,"y":-58},{"s":"Immunosin-10","x":218,"y":-56},{"s":"Immunosin-10","x":221,"y":-56},{"s":"Immunosin-10","x":224,"y":-54},{"s":"Immunosin-10","x":227,"y":-47},{"s":"Immunosin-10","x":230,"y":-37},{"s":"Immunosin-10","x":235,"y":-20},{"s":"Immunosin-10","x":240,"y":-8},{"s":"Immunosin-10","x":245,"y":-2},{"s":"Immunosin-10","x":250,"y":0},{"s":"Immunosin-10","x":260,"y":0},
{"s":"Immunosin-12","x":190,"y":3},{"s":"Immunosin-12","x":192,"y":3},{"s":"Immunosin-12","x":194,"y":3},{"s":"Immunosin-12","x":196,"y":2},{"s":"Immunosin-12","x":198,"y":1},{"s":"Immunosin-12","x":200,"y":-2},{"s":"Immunosin-12","x":203,"y":-3},{"s":"Immunosin-12","x":205,"y":-4},{"s":"Immunosin-12","x":207,"y":-12},{"s":"Immunosin-12","x":209,"y":-30},{"s":"Immunosin-12","x":211,"y":-58},{"s":"Immunosin-12","x":213,"y":-92},{"s":"Immunosin-12","x":215,"y":-125},{"s":"Immunosin-12","x":217,"y":-148},{"s":"Immunosin-12","x":219,"y":-160},{"s":"Immunosin-12","x":221,"y":-163},{"s":"Immunosin-12","x":223,"y":-160},{"s":"Immunosin-12","x":225,"y":-150},{"s":"Immunosin-12","x":227,"y":-132},{"s":"Immunosin-12","x":230,"y":-100},{"s":"Immunosin-12","x":233,"y":-68},{"s":"Immunosin-12","x":236,"y":-42},{"s":"Immunosin-12","x":239,"y":-22},{"s":"Immunosin-12","x":242,"y":-10},{"s":"Immunosin-12","x":245,"y":-4},{"s":"Immunosin-12","x":248,"y":-1},{"s":"Immunosin-12","x":252,"y":0},{"s":"Immunosin-12","x":260,"y":0}
],
"C": [
{"s":"Collagenin-2","t":0,"m":100,"lo":null,"hi":null},{"s":"Collagenin-2","t":0.5,"m":11,"lo":8,"hi":14},{"s":"Collagenin-2","t":1,"m":1,"lo":0.5,"hi":1.5},{"s":"Collagenin-2","t":3,"m":4,"lo":3,"hi":5},{"s":"Collagenin-2","t":6,"m":2,"lo":1,"hi":3},
{"s":"Collagenin-4","t":0,"m":100,"lo":null,"hi":null},{"s":"Collagenin-4","t":0.5,"m":53,"lo":8,"hi":98},{"s":"Collagenin-4","t":1,"m":38,"lo":8,"hi":68},{"s":"Collagenin-4","t":3,"m":1,"lo":0,"hi":2},{"s":"Collagenin-4","t":6,"m":1,"lo":0,"hi":2},
{"s":"Collagenin-7","t":0,"m":100,"lo":null,"hi":null},{"s":"Collagenin-7","t":0.5,"m":50,"lo":40,"hi":60},{"s":"Collagenin-7","t":1,"m":55,"lo":25,"hi":85},{"s":"Collagenin-7","t":3,"m":71,"lo":35,"hi":107},{"s":"Collagenin-7","t":6,"m":77,"lo":0,"hi":160},
{"s":"Neuronin-1","t":0,"m":100,"lo":null,"hi":null},{"s":"Neuronin-1","t":0.5,"m":87,"lo":52,"hi":122},{"s":"Neuronin-1","t":1,"m":48,"lo":43,"hi":53},{"s":"Neuronin-1","t":3,"m":32,"lo":27,"hi":37},{"s":"Neuronin-1","t":6,"m":17,"lo":14,"hi":20},
{"s":"Eyesin-3","t":0,"m":100,"lo":null,"hi":null},{"s":"Eyesin-3","t":0.5,"m":40,"lo":20,"hi":60},{"s":"Eyesin-3","t":1,"m":29,"lo":22,"hi":36},{"s":"Eyesin-3","t":3,"m":22,"lo":16,"hi":28},{"s":"Eyesin-3","t":6,"m":13,"lo":11,"hi":15},
{"s":"Zipperin-2","t":0,"m":100,"lo":null,"hi":null},{"s":"Zipperin-2","t":0.5,"m":49,"lo":27,"hi":71},{"s":"Zipperin-2","t":1,"m":43,"lo":33,"hi":53},{"s":"Zipperin-2","t":3,"m":47,"lo":32,"hi":62},{"s":"Zipperin-2","t":6,"m":65,"lo":26,"hi":104},
{"s":"Immunosin-7","t":0,"m":100,"lo":null,"hi":null},{"s":"Immunosin-7","t":0.5,"m":76,"lo":66,"hi":86},{"s":"Immunosin-7","t":1,"m":90,"lo":86,"hi":94},{"s":"Immunosin-7","t":3,"m":67,"lo":48,"hi":86},{"s":"Immunosin-7","t":6,"m":77,"lo":31,"hi":123},
{"s":"Immunosin-11","t":0,"m":100,"lo":null,"hi":null},{"s":"Immunosin-11","t":0.5,"m":39,"lo":27,"hi":51},{"s":"Immunosin-11","t":1,"m":25,"lo":16,"hi":34},{"s":"Immunosin-11","t":3,"m":3,"lo":2,"hi":4},{"s":"Immunosin-11","t":6,"m":1,"lo":0,"hi":2}
],
"Bc": [
{"p":"Collagenin-1","s":"fH","v":48},{"p":"Collagenin-1","s":"fβ-antiparallel","v":13},{"p":"Collagenin-1","s":"fβ-parallel","v":0},{"p":"Collagenin-1","s":"fturn","v":3},{"p":"Collagenin-1","s":"Others","v":37},
{"p":"Collagenin-2","s":"fH","v":70},{"p":"Collagenin-2","s":"fβ-antiparallel","v":3},{"p":"Collagenin-2","s":"fβ-parallel","v":0},{"p":"Collagenin-2","s":"fturn","v":0},{"p":"Collagenin-2","s":"Others","v":28},
{"p":"Collagenin-3","s":"fH","v":32},{"p":"Collagenin-3","s":"fβ-antiparallel","v":19},{"p":"Collagenin-3","s":"fβ-parallel","v":0},{"p":"Collagenin-3","s":"fturn","v":11},{"p":"Collagenin-3","s":"Others","v":39},
{"p":"Collagenin-4","s":"fH","v":26},{"p":"Collagenin-4","s":"fβ-antiparallel","v":26},{"p":"Collagenin-4","s":"fβ-parallel","v":0},{"p":"Collagenin-4","s":"fturn","v":8},{"p":"Collagenin-4","s":"Others","v":40},
{"p":"Collagenin-5","s":"fH","v":41},{"p":"Collagenin-5","s":"fβ-antiparallel","v":43},{"p":"Collagenin-5","s":"fβ-parallel","v":17},{"p":"Collagenin-5","s":"fturn","v":0},{"p":"Collagenin-5","s":"Others","v":0},
{"p":"Collagenin-6","s":"fH","v":84},{"p":"Collagenin-6","s":"fβ-antiparallel","v":12},{"p":"Collagenin-6","s":"fβ-parallel","v":0},{"p":"Collagenin-6","s":"fturn","v":0},{"p":"Collagenin-6","s":"Others","v":5},
{"p":"Collagenin-7","s":"fH","v":38},{"p":"Collagenin-7","s":"fβ-antiparallel","v":20},{"p":"Collagenin-7","s":"fβ-parallel","v":0},{"p":"Collagenin-7","s":"fturn","v":4},{"p":"Collagenin-7","s":"Others","v":38}
],
"Bn": [
{"p":"Neuronin-1","s":"fH","v":8},{"p":"Neuronin-1","s":"fβ-antiparallel","v":25},{"p":"Neuronin-1","s":"fβ-parallel","v":5},{"p":"Neuronin-1","s":"fturn","v":16},{"p":"Neuronin-1","s":"Others","v":46},
{"p":"Neuronin-2","s":"fH","v":98},{"p":"Neuronin-2","s":"fβ-antiparallel","v":0},{"p":"Neuronin-2","s":"fβ-parallel","v":2},{"p":"Neuronin-2","s":"fturn","v":0},{"p":"Neuronin-2","s":"Others","v":0},
{"p":"Neuronin-3","s":"fH","v":30},{"p":"Neuronin-3","s":"fβ-antiparallel","v":28},{"p":"Neuronin-3","s":"fβ-parallel","v":0},{"p":"Neuronin-3","s":"fturn","v":2},{"p":"Neuronin-3","s":"Others","v":40},
{"p":"Neuronin-4","s":"fH","v":7},{"p":"Neuronin-4","s":"fβ-antiparallel","v":34},{"p":"Neuronin-4","s":"fβ-parallel","v":0},{"p":"Neuronin-4","s":"fturn","v":13},{"p":"Neuronin-4","s":"Others","v":46},
{"p":"Neuronin-5","s":"fH","v":28},{"p":"Neuronin-5","s":"fβ-antiparallel","v":3},{"p":"Neuronin-5","s":"fβ-parallel","v":4},{"p":"Neuronin-5","s":"fturn","v":12},{"p":"Neuronin-5","s":"Others","v":52},
{"p":"Neuronin-6","s":"fH","v":38},{"p":"Neuronin-6","s":"fβ-antiparallel","v":24},{"p":"Neuronin-6","s":"fβ-parallel","v":0},{"p":"Neuronin-6","s":"fturn","v":0},{"p":"Neuronin-6","s":"Others","v":38}
],
"Be": [
{"p":"Eyesin-1","s":"fH","v":46},{"p":"Eyesin-1","s":"fβ-antiparallel","v":20},{"p":"Eyesin-1","s":"fβ-parallel","v":0},{"p":"Eyesin-1","s":"fturn","v":3},{"p":"Eyesin-1","s":"Others","v":32},
{"p":"Eyesin-2","s":"fH","v":43},{"p":"Eyesin-2","s":"fβ-antiparallel","v":17},{"p":"Eyesin-2","s":"fβ-parallel","v":0},{"p":"Eyesin-2","s":"fturn","v":4},{"p":"Eyesin-2","s":"Others","v":35},
{"p":"Eyesin-3","s":"fH","v":18},{"p":"Eyesin-3","s":"fβ-antiparallel","v":14},{"p":"Eyesin-3","s":"fβ-parallel","v":6},{"p":"Eyesin-3","s":"fturn","v":16},{"p":"Eyesin-3","s":"Others","v":47},
{"p":"Eyesin-4","s":"fH","v":52},{"p":"Eyesin-4","s":"fβ-antiparallel","v":10},{"p":"Eyesin-4","s":"fβ-parallel","v":0},{"p":"Eyesin-4","s":"fturn","v":0},{"p":"Eyesin-4","s":"Others","v":38},
{"p":"Eyesin-5","s":"fH","v":64},{"p":"Eyesin-5","s":"fβ-antiparallel","v":24},{"p":"Eyesin-5","s":"fβ-parallel","v":12},{"p":"Eyesin-5","s":"fturn","v":0},{"p":"Eyesin-5","s":"Others","v":0},
{"p":"Eyesin-6","s":"fH","v":19},{"p":"Eyesin-6","s":"fβ-antiparallel","v":28},{"p":"Eyesin-6","s":"fβ-parallel","v":26},{"p":"Eyesin-6","s":"fturn","v":27},{"p":"Eyesin-6","s":"Others","v":11},
{"p":"Eyesin-7","s":"fH","v":41},{"p":"Eyesin-7","s":"fβ-antiparallel","v":32},{"p":"Eyesin-7","s":"fβ-parallel","v":0},{"p":"Eyesin-7","s":"fturn","v":0},{"p":"Eyesin-7","s":"Others","v":27},
{"p":"Eyesin-8","s":"fH","v":39},{"p":"Eyesin-8","s":"fβ-antiparallel","v":19},{"p":"Eyesin-8","s":"fβ-parallel","v":0},{"p":"Eyesin-8","s":"fturn","v":9},{"p":"Eyesin-8","s":"Others","v":33}
],
"Bt": [
{"p":"Toothin-1","s":"fH","v":20},{"p":"Toothin-1","s":"fβ-antiparallel","v":14},{"p":"Toothin-1","s":"fβ-parallel","v":1},{"p":"Toothin-1","s":"fturn","v":17},{"p":"Toothin-1","s":"Others","v":48},
{"p":"Toothin-2","s":"fH","v":20},{"p":"Toothin-2","s":"fβ-antiparallel","v":16},{"p":"Toothin-2","s":"fβ-parallel","v":3},{"p":"Toothin-2","s":"fturn","v":15},{"p":"Toothin-2","s":"Others","v":46},
{"p":"Toothin-3","s":"fH","v":11},{"p":"Toothin-3","s":"fβ-antiparallel","v":16},{"p":"Toothin-3","s":"fβ-parallel","v":12},{"p":"Toothin-3","s":"fturn","v":18},{"p":"Toothin-3","s":"Others","v":44}
],
"Bz": [
{"p":"Zipperin-1","s":"fH","v":77},{"p":"Zipperin-1","s":"fβ-antiparallel","v":10},{"p":"Zipperin-1","s":"fβ-parallel","v":13},{"p":"Zipperin-1","s":"fturn","v":0},{"p":"Zipperin-1","s":"Others","v":0},
{"p":"Zipperin-2","s":"fH","v":89},{"p":"Zipperin-2","s":"fβ-antiparallel","v":0},{"p":"Zipperin-2","s":"fβ-parallel","v":0},{"p":"Zipperin-2","s":"fturn","v":0},{"p":"Zipperin-2","s":"Others","v":11}
],
"Bi": [
{"p":"Immunosin-1","s":"fH","v":13},{"p":"Immunosin-1","s":"fβ-antiparallel","v":14},{"p":"Immunosin-1","s":"fβ-parallel","v":6},{"p":"Immunosin-1","s":"fturn","v":15},{"p":"Immunosin-1","s":"Others","v":51},
{"p":"Immunosin-2","s":"fH","v":24},{"p":"Immunosin-2","s":"fβ-antiparallel","v":16},{"p":"Immunosin-2","s":"fβ-parallel","v":0},{"p":"Immunosin-2","s":"fturn","v":14},{"p":"Immunosin-2","s":"Others","v":46},
{"p":"Immunosin-3","s":"fH","v":35},{"p":"Immunosin-3","s":"fβ-antiparallel","v":32},{"p":"Immunosin-3","s":"fβ-parallel","v":0},{"p":"Immunosin-3","s":"fturn","v":1},{"p":"Immunosin-3","s":"Others","v":31},
{"p":"Immunosin-4","s":"fH","v":50},{"p":"Immunosin-4","s":"fβ-antiparallel","v":37},{"p":"Immunosin-4","s":"fβ-parallel","v":0},{"p":"Immunosin-4","s":"fturn","v":4},{"p":"Immunosin-4","s":"Others","v":9},
{"p":"Immunosin-5","s":"fH","v":25},{"p":"Immunosin-5","s":"fβ-antiparallel","v":22},{"p":"Immunosin-5","s":"fβ-parallel","v":0},{"p":"Immunosin-5","s":"fturn","v":3},{"p":"Immunosin-5","s":"Others","v":50},
{"p":"Immunosin-6","s":"fH","v":21},{"p":"Immunosin-6","s":"fβ-antiparallel","v":21},{"p":"Immunosin-6","s":"fβ-parallel","v":0},{"p":"Immunosin-6","s":"fturn","v":16},{"p":"Immunosin-6","s":"Others","v":42},
{"p":"Immunosin-7","s":"fH","v":29},{"p":"Immunosin-7","s":"fβ-antiparallel","v":23},{"p":"Immunosin-7","s":"fβ-parallel","v":0},{"p":"Immunosin-7","s":"fturn","v":15},{"p":"Immunosin-7","s":"Others","v":34},
{"p":"Immunosin-8","s":"fH","v":0},{"p":"Immunosin-8","s":"fβ-antiparallel","v":41},{"p":"Immunosin-8","s":"fβ-parallel","v":0},{"p":"Immunosin-8","s":"fturn","v":14},{"p":"Immunosin-8","s":"Others","v":45},
{"p":"Immunosin-9","s":"fH","v":26},{"p":"Immunosin-9","s":"fβ-antiparallel","v":18},{"p":"Immunosin-9","s":"fβ-parallel","v":6},{"p":"Immunosin-9","s":"fturn","v":17},{"p":"Immunosin-9","s":"Others","v":33},
{"p":"Immunosin-10","s":"fH","v":62},{"p":"Immunosin-10","s":"fβ-antiparallel","v":30},{"p":"Immunosin-10","s":"fβ-parallel","v":0},{"p":"Immunosin-10","s":"fturn","v":0},{"p":"Immunosin-10","s":"Others","v":9},
{"p":"Immunosin-11","s":"fH","v":51},{"p":"Immunosin-11","s":"fβ-antiparallel","v":29},{"p":"Immunosin-11","s":"fβ-parallel","v":0},{"p":"Immunosin-11","s":"fturn","v":0},{"p":"Immunosin-11","s":"Others","v":21},
{"p":"Immunosin-12","s":"fH","v":0},{"p":"Immunosin-12","s":"fβ-antiparallel","v":100},{"p":"Immunosin-12","s":"fβ-parallel","v":0},{"p":"Immunosin-12","s":"fturn","v":0},{"p":"Immunosin-12","s":"Others","v":0},
{"p":"Immunosin-13","s":"fH","v":20},{"p":"Immunosin-13","s":"fβ-antiparallel","v":47},{"p":"Immunosin-13","s":"fβ-parallel","v":0},{"p":"Immunosin-13","s":"fturn","v":33},{"p":"Immunosin-13","s":"Others","v":0}
],
"D": [
{"p":"Collagenin-3 + Collagenin-4","v":0.5},{"p":"Collagenin-5 + Collagenin-6","v":0.97},{"p":"Collagenin-5 + Collagenin-7","v":0.97},{"p":"Collagenin-6 + Collagenin-7","v":0.97},{"p":"Neuronin-1 + Neuronin-2","v":0.56},{"p":"Neuronin-5 + Neuronin-6","v":0.75},{"p":"Eyesin-1 + Eyesin-2","v":0.97},{"p":"Eyesin-1 + Eyesin-4","v":0.75},{"p":"Eyesin-2 + Eyesin-4","v":0.98},{"p":"Eyesin-3 + Eyesin-6","v":0.375},{"p":"Eyesin-7 + Eyesin-8","v":0.56},{"p":"Toothin-1 + Toothin-3","v":2},{"p":"Zipperin-1 + Zipperin-2","v":0.75},{"p":"Immunosin-1 + Immunosin-2","v":0.75},{"p":"Immunosin-1 + Immunosin-3","v":2},{"p":"Immunosin-2 + Immunosin-3","v":0.5},{"p":"Immunosin-8 + Immunosin-9","v":0.375},{"p":"Immunosin-8 + Immunosin-10","v":0.75},{"p":"Immunosin-9 + Immunosin-10","v":0.31},{"p":"Immunosin-12 + Immunosin-13","v":0.75}
],
"E": [
{"s":"Collagenin-1","t":1,"v":24},{"s":"Collagenin-1","t":8,"v":15},{"s":"Collagenin-1","t":15,"v":2},{"s":"Collagenin-1","t":22,"v":3},{"s":"Collagenin-1","t":30,"v":8},{"s":"Collagenin-1","t":38,"v":13},{"s":"Collagenin-1","t":45,"v":8},
{"s":"Collagenin-3","t":1,"v":36},{"s":"Collagenin-3","t":8,"v":43},{"s":"Collagenin-3","t":15,"v":42},{"s":"Collagenin-3","t":22,"v":40},{"s":"Collagenin-3","t":30,"v":40},{"s":"Collagenin-3","t":38,"v":46},{"s":"Collagenin-3","t":45,"v":38},
{"s":"Collagenin-4","t":1,"v":20},{"s":"Collagenin-4","t":8,"v":25},{"s":"Collagenin-4","t":15,"v":22},{"s":"Collagenin-4","t":22,"v":20},{"s":"Collagenin-4","t":30,"v":18},{"s":"Collagenin-4","t":38,"v":20},{"s":"Collagenin-4","t":45,"v":15},
{"s":"Collagenin-5","t":1,"v":18},{"s":"Collagenin-5","t":8,"v":20},{"s":"Collagenin-5","t":15,"v":12},{"s":"Collagenin-5","t":22,"v":5},{"s":"Collagenin-5","t":30,"v":0},{"s":"Collagenin-5","t":38,"v":-2},{"s":"Collagenin-5","t":45,"v":-12},
{"s":"Collagenin-6","t":1,"v":30},{"s":"Collagenin-6","t":8,"v":35},{"s":"Collagenin-6","t":15,"v":45},{"s":"Collagenin-6","t":22,"v":58},{"s":"Collagenin-6","t":30,"v":65},{"s":"Collagenin-6","t":38,"v":75},{"s":"Collagenin-6","t":45,"v":68},
{"s":"Collagenin-7","t":1,"v":28},{"s":"Collagenin-7","t":8,"v":30},{"s":"Collagenin-7","t":15,"v":35},{"s":"Collagenin-7","t":22,"v":40},{"s":"Collagenin-7","t":30,"v":35},{"s":"Collagenin-7","t":38,"v":30},{"s":"Collagenin-7","t":45,"v":25},
{"s":"Neuronin-1","t":1,"v":32},{"s":"Neuronin-1","t":8,"v":38},{"s":"Neuronin-1","t":15,"v":42},{"s":"Neuronin-1","t":22,"v":45},{"s":"Neuronin-1","t":30,"v":50},{"s":"Neuronin-1","t":38,"v":52},{"s":"Neuronin-1","t":45,"v":48},
{"s":"Neuronin-2","t":1,"v":30},{"s":"Neuronin-2","t":8,"v":32},{"s":"Neuronin-2","t":15,"v":35},{"s":"Neuronin-2","t":22,"v":38},{"s":"Neuronin-2","t":30,"v":40},{"s":"Neuronin-2","t":38,"v":42},{"s":"Neuronin-2","t":45,"v":35},
{"s":"Neuronin-3","t":1,"v":25},{"s":"Neuronin-3","t":8,"v":22},{"s":"Neuronin-3","t":15,"v":18},{"s":"Neuronin-3","t":22,"v":12},{"s":"Neuronin-3","t":30,"v":8},{"s":"Neuronin-3","t":38,"v":15},{"s":"Neuronin-3","t":45,"v":10},
{"s":"Neuronin-5","t":1,"v":5},{"s":"Neuronin-5","t":8,"v":0},{"s":"Neuronin-5","t":15,"v":-7},{"s":"Neuronin-5","t":22,"v":-5},{"s":"Neuronin-5","t":30,"v":0},{"s":"Neuronin-5","t":38,"v":5},{"s":"Neuronin-5","t":45,"v":-3},
{"s":"Neuronin-6","t":1,"v":60},{"s":"Neuronin-6","t":8,"v":72},{"s":"Neuronin-6","t":15,"v":83},{"s":"Neuronin-6","t":22,"v":90},{"s":"Neuronin-6","t":30,"v":92},{"s":"Neuronin-6","t":38,"v":97},{"s":"Neuronin-6","t":45,"v":94},
{"s":"Eyesin-1","t":1,"v":40},{"s":"Eyesin-1","t":8,"v":45},{"s":"Eyesin-1","t":15,"v":50},{"s":"Eyesin-1","t":22,"v":55},{"s":"Eyesin-1","t":30,"v":58},{"s":"Eyesin-1","t":38,"v":60},{"s":"Eyesin-1","t":45,"v":55},
{"s":"Eyesin-2","t":1,"v":35},{"s":"Eyesin-2","t":8,"v":40},{"s":"Eyesin-2","t":15,"v":48},{"s":"Eyesin-2","t":22,"v":55},{"s":"Eyesin-2","t":30,"v":62},{"s":"Eyesin-2","t":38,"v":68},{"s":"Eyesin-2","t":45,"v":62},
{"s":"Eyesin-3","t":1,"v":30},{"s":"Eyesin-3","t":8,"v":35},{"s":"Eyesin-3","t":15,"v":45},{"s":"Eyesin-3","t":22,"v":55},{"s":"Eyesin-3","t":30,"v":62},{"s":"Eyesin-3","t":38,"v":68},{"s":"Eyesin-3","t":45,"v":60},
{"s":"Eyesin-4","t":1,"v":25},{"s":"Eyesin-4","t":8,"v":28},{"s":"Eyesin-4","t":15,"v":20},{"s":"Eyesin-4","t":22,"v":15},{"s":"Eyesin-4","t":30,"v":10},{"s":"Eyesin-4","t":38,"v":5},{"s":"Eyesin-4","t":45,"v":-5},
{"s":"Eyesin-6","t":1,"v":55},{"s":"Eyesin-6","t":8,"v":80},{"s":"Eyesin-6","t":15,"v":100},{"s":"Eyesin-6","t":22,"v":118},{"s":"Eyesin-6","t":30,"v":124},{"s":"Eyesin-6","t":38,"v":124},{"s":"Eyesin-6","t":45,"v":119},
{"s":"Eyesin-7","t":1,"v":38},{"s":"Eyesin-7","t":8,"v":52},{"s":"Eyesin-7","t":15,"v":66},{"s":"Eyesin-7","t":22,"v":82},{"s":"Eyesin-7","t":30,"v":105},{"s":"Eyesin-7","t":38,"v":124},{"s":"Eyesin-7","t":45,"v":115},
{"s":"Eyesin-8","t":1,"v":26},{"s":"Eyesin-8","t":8,"v":27},{"s":"Eyesin-8","t":15,"v":27},{"s":"Eyesin-8","t":22,"v":27},{"s":"Eyesin-8","t":30,"v":25},{"s":"Eyesin-8","t":38,"v":24},{"s":"Eyesin-8","t":45,"v":20},
{"s":"Toothin-1","t":1,"v":8},{"s":"Toothin-1","t":8,"v":25},{"s":"Toothin-1","t":15,"v":35},{"s":"Toothin-1","t":22,"v":38},{"s":"Toothin-1","t":30,"v":38},{"s":"Toothin-1","t":38,"v":36},{"s":"Toothin-1","t":45,"v":32},
{"s":"Toothin-3","t":1,"v":45},{"s":"Toothin-3","t":8,"v":62},{"s":"Toothin-3","t":15,"v":78},{"s":"Toothin-3","t":22,"v":92},{"s":"Toothin-3","t":30,"v":96},{"s":"Toothin-3","t":38,"v":94},{"s":"Toothin-3","t":45,"v":85},
{"s":"Zipperin-1","t":1,"v":173},{"s":"Zipperin-1","t":8,"v":185},{"s":"Zipperin-1","t":15,"v":155},{"s":"Zipperin-1","t":22,"v":118},{"s":"Zipperin-1","t":30,"v":90},{"s":"Zipperin-1","t":38,"v":72},{"s":"Zipperin-1","t":45,"v":43},
{"s":"Zipperin-2","t":1,"v":139},{"s":"Zipperin-2","t":8,"v":137},{"s":"Zipperin-2","t":15,"v":128},{"s":"Zipperin-2","t":22,"v":114},{"s":"Zipperin-2","t":30,"v":104},{"s":"Zipperin-2","t":38,"v":94},{"s":"Zipperin-2","t":45,"v":75},
{"s":"Immunosin-1","t":1,"v":45},{"s":"Immunosin-1","t":8,"v":48},{"s":"Immunosin-1","t":15,"v":52},{"s":"Immunosin-1","t":22,"v":55},{"s":"Immunosin-1","t":30,"v":60},{"s":"Immunosin-1","t":38,"v":62},{"s":"Immunosin-1","t":45,"v":58},
{"s":"Immunosin-2","t":1,"v":38},{"s":"Immunosin-2","t":8,"v":45},{"s":"Immunosin-2","t":15,"v":55},{"s":"Immunosin-2","t":22,"v":60},{"s":"Immunosin-2","t":30,"v":58},{"s":"Immunosin-2","t":38,"v":57},{"s":"Immunosin-2","t":45,"v":50},
{"s":"Immunosin-3","t":1,"v":40},{"s":"Immunosin-3","t":8,"v":45},{"s":"Immunosin-3","t":15,"v":50},{"s":"Immunosin-3","t":22,"v":52},{"s":"Immunosin-3","t":30,"v":50},{"s":"Immunosin-3","t":38,"v":46},{"s":"Immunosin-3","t":45,"v":42},
{"s":"Immunosin-6","t":1,"v":55},{"s":"Immunosin-6","t":8,"v":62},{"s":"Immunosin-6","t":15,"v":65},{"s":"Immunosin-6","t":22,"v":62},{"s":"Immunosin-6","t":30,"v":52},{"s":"Immunosin-6","t":38,"v":38},{"s":"Immunosin-6","t":45,"v":28},
{"s":"Immunosin-7","t":1,"v":48},{"s":"Immunosin-7","t":8,"v":58},{"s":"Immunosin-7","t":15,"v":68},{"s":"Immunosin-7","t":22,"v":72},{"s":"Immunosin-7","t":30,"v":70},{"s":"Immunosin-7","t":38,"v":66},{"s":"Immunosin-7","t":45,"v":55},
{"s":"Immunosin-8","t":1,"v":70},{"s":"Immunosin-8","t":8,"v":80},{"s":"Immunosin-8","t":15,"v":87},{"s":"Immunosin-8","t":22,"v":89},{"s":"Immunosin-8","t":30,"v":88},{"s":"Immunosin-8","t":38,"v":84},{"s":"Immunosin-8","t":45,"v":78},
{"s":"Immunosin-9","t":1,"v":95},{"s":"Immunosin-9","t":8,"v":118},{"s":"Immunosin-9","t":15,"v":145},{"s":"Immunosin-9","t":22,"v":158},{"s":"Immunosin-9","t":30,"v":160},{"s":"Immunosin-9","t":38,"v":165},{"s":"Immunosin-9","t":45,"v":150},
{"s":"Immunosin-10","t":1,"v":36},{"s":"Immunosin-10","t":8,"v":48},{"s":"Immunosin-10","t":15,"v":60},{"s":"Immunosin-10","t":22,"v":70},{"s":"Immunosin-10","t":30,"v":78},{"s":"Immunosin-10","t":38,"v":76},{"s":"Immunosin-10","t":45,"v":68},
{"s":"Immunosin-11","t":1,"v":106},{"s":"Immunosin-11","t":8,"v":112},{"s":"Immunosin-11","t":15,"v":110},{"s":"Immunosin-11","t":22,"v":105},{"s":"Immunosin-11","t":30,"v":99},{"s":"Immunosin-11","t":38,"v":92},{"s":"Immunosin-11","t":45,"v":86},
{"s":"Immunosin-12","t":1,"v":152},{"s":"Immunosin-12","t":8,"v":183},{"s":"Immunosin-12","t":15,"v":190},{"s":"Immunosin-12","t":22,"v":193},{"s":"Immunosin-12","t":30,"v":180},{"s":"Immunosin-12","t":38,"v":167},{"s":"Immunosin-12","t":45,"v":150},
{"s":"Immunosin-13","t":1,"v":128},{"s":"Immunosin-13","t":8,"v":130},{"s":"Immunosin-13","t":15,"v":112},{"s":"Immunosin-13","t":22,"v":92},{"s":"Immunosin-13","t":30,"v":69},{"s":"Immunosin-13","t":38,"v":58},{"s":"Immunosin-13","t":45,"v":47},
{"s":"Polymyxin B","t":1,"v":152},{"s":"Polymyxin B","t":8,"v":152},{"s":"Polymyxin B","t":15,"v":127},{"s":"Polymyxin B","t":22,"v":121},{"s":"Polymyxin B","t":30,"v":135},{"s":"Polymyxin B","t":38,"v":145},{"s":"Polymyxin B","t":45,"v":127}
],
"F1": [
{"s":"Collagenin-1","t":16,"v":25},{"s":"Collagenin-1","t":20,"v":42},{"s":"Collagenin-1","t":30,"v":70},{"s":"Collagenin-1","t":40,"v":92},{"s":"Collagenin-1","t":50,"v":115},{"s":"Collagenin-1","t":55,"v":125},{"s":"Collagenin-1","t":60,"v":130},
{"s":"Collagenin-3","t":16,"v":12},{"s":"Collagenin-3","t":20,"v":30},{"s":"Collagenin-3","t":30,"v":50},{"s":"Collagenin-3","t":40,"v":65},{"s":"Collagenin-3","t":50,"v":78},{"s":"Collagenin-3","t":55,"v":83},{"s":"Collagenin-3","t":60,"v":83},
{"s":"Collagenin-4","t":16,"v":13},{"s":"Collagenin-4","t":20,"v":35},{"s":"Collagenin-4","t":30,"v":60},{"s":"Collagenin-4","t":40,"v":83},{"s":"Collagenin-4","t":50,"v":105},{"s":"Collagenin-4","t":55,"v":115},{"s":"Collagenin-4","t":60,"v":118},
{"s":"Collagenin-5","t":16,"v":10},{"s":"Collagenin-5","t":20,"v":28},{"s":"Collagenin-5","t":30,"v":48},{"s":"Collagenin-5","t":40,"v":62},{"s":"Collagenin-5","t":50,"v":75},{"s":"Collagenin-5","t":55,"v":80},{"s":"Collagenin-5","t":60,"v":82},
{"s":"Collagenin-6","t":16,"v":8},{"s":"Collagenin-6","t":20,"v":26},{"s":"Collagenin-6","t":30,"v":45},{"s":"Collagenin-6","t":40,"v":60},{"s":"Collagenin-6","t":50,"v":72},{"s":"Collagenin-6","t":55,"v":80},{"s":"Collagenin-6","t":60,"v":85},
{"s":"Collagenin-7","t":16,"v":28},{"s":"Collagenin-7","t":20,"v":50},{"s":"Collagenin-7","t":30,"v":85},{"s":"Collagenin-7","t":40,"v":108},{"s":"Collagenin-7","t":50,"v":133},{"s":"Collagenin-7","t":55,"v":145},{"s":"Collagenin-7","t":60,"v":152},
{"s":"Neuronin-1","t":16,"v":10},{"s":"Neuronin-1","t":20,"v":30},{"s":"Neuronin-1","t":30,"v":55},{"s":"Neuronin-1","t":40,"v":75},{"s":"Neuronin-1","t":50,"v":90},{"s":"Neuronin-1","t":55,"v":95},{"s":"Neuronin-1","t":60,"v":97},
{"s":"Neuronin-2","t":16,"v":8},{"s":"Neuronin-2","t":20,"v":30},{"s":"Neuronin-2","t":30,"v":52},{"s":"Neuronin-2","t":40,"v":78},{"s":"Neuronin-2","t":50,"v":98},{"s":"Neuronin-2","t":55,"v":108},{"s":"Neuronin-2","t":60,"v":106},
{"s":"Neuronin-3","t":16,"v":3},{"s":"Neuronin-3","t":20,"v":20},{"s":"Neuronin-3","t":30,"v":38},{"s":"Neuronin-3","t":40,"v":52},{"s":"Neuronin-3","t":50,"v":62},{"s":"Neuronin-3","t":55,"v":68},{"s":"Neuronin-3","t":60,"v":70},
{"s":"Neuronin-5","t":16,"v":0},{"s":"Neuronin-5","t":20,"v":18},{"s":"Neuronin-5","t":30,"v":35},{"s":"Neuronin-5","t":40,"v":48},{"s":"Neuronin-5","t":50,"v":60},{"s":"Neuronin-5","t":55,"v":66},{"s":"Neuronin-5","t":60,"v":65},
{"s":"Neuronin-6","t":16,"v":2},{"s":"Neuronin-6","t":20,"v":22},{"s":"Neuronin-6","t":30,"v":40},{"s":"Neuronin-6","t":40,"v":53},{"s":"Neuronin-6","t":50,"v":65},{"s":"Neuronin-6","t":55,"v":72},{"s":"Neuronin-6","t":60,"v":75},
{"s":"Eyesin-1","t":16,"v":15},{"s":"Eyesin-1","t":20,"v":35},{"s":"Eyesin-1","t":30,"v":55},{"s":"Eyesin-1","t":40,"v":70},{"s":"Eyesin-1","t":50,"v":85},{"s":"Eyesin-1","t":55,"v":92},{"s":"Eyesin-1","t":60,"v":95},
{"s":"Eyesin-2","t":16,"v":25},{"s":"Eyesin-2","t":20,"v":46},{"s":"Eyesin-2","t":30,"v":80},{"s":"Eyesin-2","t":40,"v":103},{"s":"Eyesin-2","t":50,"v":128},{"s":"Eyesin-2","t":55,"v":140},{"s":"Eyesin-2","t":60,"v":138},
{"s":"Eyesin-3","t":16,"v":20},{"s":"Eyesin-3","t":20,"v":40},{"s":"Eyesin-3","t":30,"v":70},{"s":"Eyesin-3","t":40,"v":95},{"s":"Eyesin-3","t":50,"v":118},{"s":"Eyesin-3","t":55,"v":130},{"s":"Eyesin-3","t":60,"v":128},
{"s":"Eyesin-4","t":16,"v":5},{"s":"Eyesin-4","t":20,"v":22},{"s":"Eyesin-4","t":30,"v":42},{"s":"Eyesin-4","t":40,"v":55},{"s":"Eyesin-4","t":50,"v":68},{"s":"Eyesin-4","t":55,"v":75},{"s":"Eyesin-4","t":60,"v":78},
{"s":"Eyesin-6","t":16,"v":0},{"s":"Eyesin-6","t":20,"v":18},{"s":"Eyesin-6","t":30,"v":35},{"s":"Eyesin-6","t":40,"v":48},{"s":"Eyesin-6","t":50,"v":60},{"s":"Eyesin-6","t":55,"v":66},{"s":"Eyesin-6","t":60,"v":68},
{"s":"Eyesin-7","t":16,"v":-2},{"s":"Eyesin-7","t":20,"v":15},{"s":"Eyesin-7","t":30,"v":33},{"s":"Eyesin-7","t":40,"v":45},{"s":"Eyesin-7","t":50,"v":57},{"s":"Eyesin-7","t":55,"v":63},{"s":"Eyesin-7","t":60,"v":65},
{"s":"Eyesin-8","t":16,"v":-5},{"s":"Eyesin-8","t":20,"v":12},{"s":"Eyesin-8","t":30,"v":30},{"s":"Eyesin-8","t":40,"v":42},{"s":"Eyesin-8","t":50,"v":52},{"s":"Eyesin-8","t":55,"v":57},{"s":"Eyesin-8","t":60,"v":60}
],
"F2": [
{"s":"Toothin-1","t":16,"v":20},{"s":"Toothin-1","t":20,"v":42},{"s":"Toothin-1","t":30,"v":60},{"s":"Toothin-1","t":40,"v":72},{"s":"Toothin-1","t":50,"v":82},{"s":"Toothin-1","t":55,"v":88},{"s":"Toothin-1","t":60,"v":90},
{"s":"Toothin-3","t":16,"v":-60},{"s":"Toothin-3","t":20,"v":-45},{"s":"Toothin-3","t":30,"v":-28},{"s":"Toothin-3","t":40,"v":-18},{"s":"Toothin-3","t":50,"v":-12},{"s":"Toothin-3","t":55,"v":-7},{"s":"Toothin-3","t":60,"v":-8},
{"s":"Zipperin-1","t":16,"v":-5},{"s":"Zipperin-1","t":20,"v":15},{"s":"Zipperin-1","t":30,"v":35},{"s":"Zipperin-1","t":40,"v":50},{"s":"Zipperin-1","t":50,"v":62},{"s":"Zipperin-1","t":55,"v":67},{"s":"Zipperin-1","t":60,"v":68},
{"s":"Zipperin-2","t":16,"v":-10},{"s":"Zipperin-2","t":20,"v":10},{"s":"Zipperin-2","t":30,"v":28},{"s":"Zipperin-2","t":40,"v":42},{"s":"Zipperin-2","t":50,"v":55},{"s":"Zipperin-2","t":55,"v":60},{"s":"Zipperin-2","t":60,"v":62},
{"s":"Immunosin-1","t":16,"v":15},{"s":"Immunosin-1","t":20,"v":35},{"s":"Immunosin-1","t":30,"v":55},{"s":"Immunosin-1","t":40,"v":68},{"s":"Immunosin-1","t":50,"v":80},{"s":"Immunosin-1","t":55,"v":86},{"s":"Immunosin-1","t":60,"v":88},
{"s":"Immunosin-2","t":16,"v":5},{"s":"Immunosin-2","t":20,"v":25},{"s":"Immunosin-2","t":30,"v":45},{"s":"Immunosin-2","t":40,"v":60},{"s":"Immunosin-2","t":50,"v":75},{"s":"Immunosin-2","t":55,"v":82},{"s":"Immunosin-2","t":60,"v":85},
{"s":"Immunosin-3","t":16,"v":-18},{"s":"Immunosin-3","t":20,"v":-8},{"s":"Immunosin-3","t":30,"v":0},{"s":"Immunosin-3","t":40,"v":5},{"s":"Immunosin-3","t":50,"v":10},{"s":"Immunosin-3","t":55,"v":13},{"s":"Immunosin-3","t":60,"v":12},
{"s":"Immunosin-6","t":16,"v":5},{"s":"Immunosin-6","t":20,"v":25},{"s":"Immunosin-6","t":30,"v":45},{"s":"Immunosin-6","t":40,"v":62},{"s":"Immunosin-6","t":50,"v":78},{"s":"Immunosin-6","t":55,"v":85},{"s":"Immunosin-6","t":60,"v":88},
{"s":"Immunosin-7","t":16,"v":5},{"s":"Immunosin-7","t":20,"v":25},{"s":"Immunosin-7","t":30,"v":48},{"s":"Immunosin-7","t":40,"v":65},{"s":"Immunosin-7","t":50,"v":80},{"s":"Immunosin-7","t":55,"v":87},{"s":"Immunosin-7","t":60,"v":90},
{"s":"Immunosin-8","t":16,"v":3},{"s":"Immunosin-8","t":20,"v":22},{"s":"Immunosin-8","t":30,"v":42},{"s":"Immunosin-8","t":40,"v":58},{"s":"Immunosin-8","t":50,"v":72},{"s":"Immunosin-8","t":55,"v":80},{"s":"Immunosin-8","t":60,"v":83},
{"s":"Immunosin-9","t":16,"v":-2},{"s":"Immunosin-9","t":20,"v":18},{"s":"Immunosin-9","t":30,"v":35},{"s":"Immunosin-9","t":40,"v":48},{"s":"Immunosin-9","t":50,"v":55},{"s":"Immunosin-9","t":55,"v":57},{"s":"Immunosin-9","t":60,"v":55},
{"s":"Immunosin-10","t":16,"v":-10},{"s":"Immunosin-10","t":20,"v":12},{"s":"Immunosin-10","t":30,"v":30},{"s":"Immunosin-10","t":40,"v":38},{"s":"Immunosin-10","t":50,"v":45},{"s":"Immunosin-10","t":55,"v":48},{"s":"Immunosin-10","t":60,"v":42},
{"s":"Immunosin-11","t":16,"v":2},{"s":"Immunosin-11","t":20,"v":22},{"s":"Immunosin-11","t":30,"v":45},{"s":"Immunosin-11","t":40,"v":62},{"s":"Immunosin-11","t":50,"v":78},{"s":"Immunosin-11","t":55,"v":85},{"s":"Immunosin-11","t":60,"v":87},
{"s":"Immunosin-12","t":16,"v":5},{"s":"Immunosin-12","t":20,"v":30},{"s":"Immunosin-12","t":30,"v":55},{"s":"Immunosin-12","t":40,"v":80},{"s":"Immunosin-12","t":50,"v":100},{"s":"Immunosin-12","t":55,"v":112},{"s":"Immunosin-12","t":60,"v":113},
{"s":"Immunosin-13","t":16,"v":8},{"s":"Immunosin-13","t":20,"v":28},{"s":"Immunosin-13","t":30,"v":50},{"s":"Immunosin-13","t":40,"v":68},{"s":"Immunosin-13","t":50,"v":85},{"s":"Immunosin-13","t":55,"v":92},{"s":"Immunosin-13","t":60,"v":95},
{"s":"Polymyxin B","t":16,"v":-16},{"s":"Polymyxin B","t":20,"v":3},{"s":"Polymyxin B","t":30,"v":22},{"s":"Polymyxin B","t":40,"v":32},{"s":"Polymyxin B","t":50,"v":40},{"s":"Polymyxin B","t":55,"v":46},{"s":"Polymyxin B","t":60,"v":45}
]
},
"config": {
 "font": "Liberation Sans",
 "view": {"stroke": null},
 "axis": {"labelFont": "Liberation Sans", "titleFont": "Liberation Sans", "labelFontWeight": "bold", "titleFontWeight": "bold", "labelColor": "#000", "titleColor": "#000", "domainColor": "#000", "tickColor": "#000", "domainWidth": 3, "tickWidth": 2, "tickSize": 8, "grid": false},
 "legend": {"labelFont": "Liberation Sans", "labelFontWeight": "bold", "labelColor": "#000", "padding": 0, "titlePadding": 0},
 "title": {"font": "Liberation Sans", "fontSize": 40, "fontWeight": "bold", "color": "#000", "anchor": "start", "frame": "group"},
 "text": {"font": "Liberation Sans"}
}
}
